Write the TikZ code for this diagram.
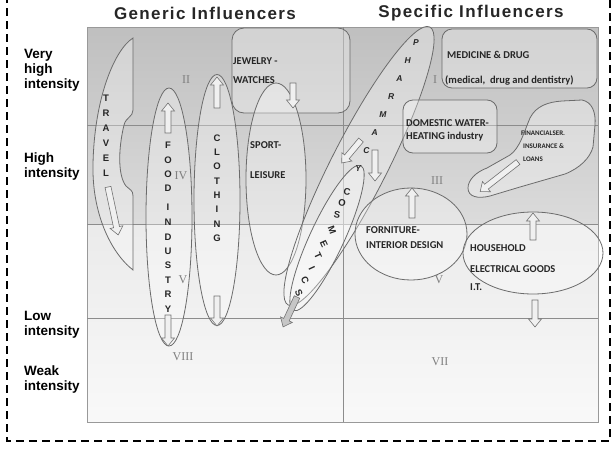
\documentclass[tikz,border=0pt]{standalone}
\usepackage{fontspec}
\setmainfont{Liberation Sans}
\newfontfamily\calfont{Carlito}
\newfontfamily\romfont{Liberation Serif}
\newfontfamily\headfont[LetterSpace=8]{Liberation Sans}
\usetikzlibrary{shapes.geometric}

\tikzset{
    zone/.style={draw=black!58,line width=0.8pt,fill=white,fill opacity=0.3,inner sep=0pt},
    gridline/.style={draw=black!45,line width=0.8pt},
    barrow/.style={draw=black!55,line width=0.6pt,fill=gray!12},
    lvl/.style={font=\fontsize{13.5}{15}\selectfont\bfseries,align=left,anchor=west,inner sep=0pt},
    head/.style={font=\headfont\fontsize{17}{20}\selectfont\bfseries,text=black!85,inner sep=0pt},
    boxtext/.style={font=\calfont\fontsize{10.5}{12}\selectfont\bfseries,text=black!85,anchor=west,inner sep=0pt},
    smalltext/.style={font=\calfont\fontsize{7}{8}\selectfont\bfseries,text=black!85,anchor=west,inner sep=0pt},
    vlet/.style={font=\fontsize{9.5}{10}\selectfont\bfseries,text=black!85,inner sep=0pt},
    roman/.style={font=\romfont\fontsize{12}{13}\selectfont,text=black!50,inner sep=0pt}
}

%% hollow block arrow: [style]{tail}{angle}{length}
\newcommand{\blockarr}[4][]{%
    \draw[barrow,#1,shift={#2},rotate=#3] (0,-3) -- ({#4-8},-3) -- ({#4-8},-6.5)
        -- (#4,0) -- ({#4-8},6.5) -- ({#4-8},3) -- (0,3) -- cycle;}

\begin{document}
\begin{tikzpicture}[x=1pt,y=-1pt]
    \useasboundingbox (0,0) rectangle (616,450);
    %% dashed frame
    \draw[line width=1.6pt,dash pattern=on 8pt off 5pt] (7,-5) rectangle (610,441);
    %% headings
    \node[head] (generic) at (205,13) {Generic Influencers};
    \node[head] (specific) at (471,13) {Specific Influencers};
    %% intensity levels
    \node[lvl] (veryhigh) at (24,70) {Very\\high\\intensity};
    \node[lvl] (high) at (24,167) {High\\intensity};
    \node[lvl] (low) at (24,325) {Low\\intensity};
    \node[lvl] (weak) at (24,380) {Weak\\intensity};
    %% chart area
    \shade[top color=gray!50,bottom color=gray!28] (87,27) rectangle (598,224);
    \shade[top color=gray!16,bottom color=gray!5] (87,224) rectangle (598,422);
    \draw[black!40,line width=0.6pt] (87,27) rectangle (598,422);
    \draw[gridline] (87,125) -- (598,125);
    \draw[gridline] (87,224) -- (598,224);
    \draw[gridline] (87,318) -- (598,318);
    \draw[gridline] (343,27) -- (343,422);

    %% travel
    \draw[zone] (133,38) -- (133,110) .. controls (133,117) and (126,117) .. (124,125)
        .. controls (118,150) and (118,176) .. (126,186) .. controls (130,190) and (133,190) .. (133,196)
        -- (133,270) .. controls (110,252) and (92,212) .. (93,165)
        .. controls (94,100) and (114,50) .. (133,38) -- cycle;
    %% jewelry - watches
    \draw[zone,rounded corners=12pt] (232,28) rectangle (350,113);
    %% ellipses
    \node[zone,ellipse,minimum width=46,minimum height=258] (food) at (169,217) {};
    \node[zone,ellipse,minimum width=46,minimum height=251] (cloth) at (217,200) {};
    \node[zone,ellipse,minimum width=60,minimum height=192] (sport) at (276,179) {};
    \node[zone,ellipse,rotate=63,minimum width=312,minimum height=56] (pharma) at (359,166) {};
    \node[zone,ellipse,rotate=65,minimum width=160,minimum height=34] (cosm) at (327,238) {};
    %% specific boxes
    \draw[zone,rounded corners=10pt] (442,29) rectangle (597,88);
    \draw[zone,rounded corners=10pt] (403,100) rectangle (497,153);
    \draw[zone] (468,188) .. controls (468,180) and (476,172) .. (487,168)
        -- (510,155) .. controls (520,148) and (524,132) .. (530,118)
        .. controls (536,106) and (548,102) .. (562,101) -- (582,100)
        .. controls (592,102) and (596,112) .. (595,125) -- (593,147)
        .. controls (590,158) and (580,168) .. (565,174) -- (520,187) -- (490,196)
        .. controls (478,199) and (468,197) .. (468,188) -- cycle;
    \node[zone,ellipse,minimum width=112,minimum height=92] (furn) at (411,234) {};
    \node[zone,ellipse,minimum width=140,minimum height=82] (house) at (533,253) {};

    %% vertical words
    \foreach \ch [count=\i] in {T,R,A,V,E,L}
        \node[vlet] (travel\i) at (106,{83+15*\i}) {\ch};
    \foreach \ch/\yy [count=\i] in {F/145,O/160,O/174,D/188,I/207,N/222,D/237,U/251,S/265,T/280,R/294,Y/309}
        \node[vlet] (food\i) at (168,\yy) {\ch};
    \foreach \ch [count=\i] in {C,L,O,T,H,I,N,G}
        \node[vlet] (cloth\i) at (217,{123.7+14.3*\i}) {\ch};
    \foreach \ch [count=\i] in {P,H,A,R,M,A,C,Y}
        \node[vlet,font=\fontsize{8.5}{9}\selectfont\bfseries\itshape] (pharma\i) at ({424.25-8.25*\i},{25.1+17.9*\i}) {\ch};
    \foreach \ch/\xx/\yy/\rr [count=\i] in {C/347/192/-10,O/342/203/-10,S/337/215/-10,M/332/230/-70,E/324/244/-65,T/318/256/-65,I/312/268/-65,C/305/280/-65,S/299/293/-65}
        \node[vlet,rotate=\rr] (cosm\i) at (\xx,\yy) {\ch};

    %% box texts
    \node[boxtext] (jewel) at (233,61) {JEWELRY -};
    \node[boxtext] (watch) at (233,80) {WATCHES};
    \node[boxtext] (sporttxt) at (250,145) {SPORT-};
    \node[boxtext] (leisure) at (250,175) {LEISURE};
    \node[boxtext] (medic) at (447,55) {MEDICINE \& DRUG};
    \node[boxtext] (medsub) at (445,80) {(medical,\ \ drug and dentistry)};
    \node[boxtext] (water) at (406,123) {DOMESTIC WATER-};
    \node[boxtext] (heating) at (406,137) {HEATING industry};
    \node[smalltext] (fin) at (521,133) {FINANCIALSER.};
    \node[smalltext] (insur) at (523,146) {INSURANCE \&};
    \node[smalltext] (loans) at (523,159) {LOANS};
    \node[boxtext] (furntxt) at (366,230) {FORNITURE-};
    \node[boxtext] (interior) at (366,245) {INTERIOR DESIGN};
    \node[boxtext] (hhold) at (470,248) {HOUSEHOLD};
    \node[boxtext] (elec) at (470,269) {ELECTRICAL GOODS};
    \node[boxtext] (it) at (470,287) {I.T.};

    %% zone numbers
    \node[roman] (zII) at (186,80) {II};
    \node[roman] (zIV) at (181,176) {IV};
    \node[roman] (zV) at (183,280) {V};
    \node[roman] (zVIII) at (183,357) {VIII};
    \node[roman] (zI) at (435,80) {I};
    \node[roman] (zIII) at (437,181) {III};
    \node[roman] (zVb) at (439,280) {V};
    \node[roman] (zVII) at (440,362) {VII};

    %% arrows
    \blockarr{(108,187)}{-78}{49}
    \blockarr{(168,133)}{90}{30}
    \blockarr{(168,315)}{-90}{31}
    \blockarr{(217,108)}{90}{31}
    \blockarr{(217,296)}{-90}{30}
    \blockarr{(293,83)}{-90}{25}
    \blockarr{(361,140)}{-130}{30}
    \blockarr{(375,150)}{-90}{31}
    \blockarr[fill=gray!45]{(297,297)}{-115}{33}
    \blockarr{(518,162)}{-142}{48}
    \blockarr{(412,218)}{90}{30}
    \blockarr{(533,240)}{90}{27}
    \blockarr{(535,300)}{-90}{27}
\end{tikzpicture}
\end{document}
